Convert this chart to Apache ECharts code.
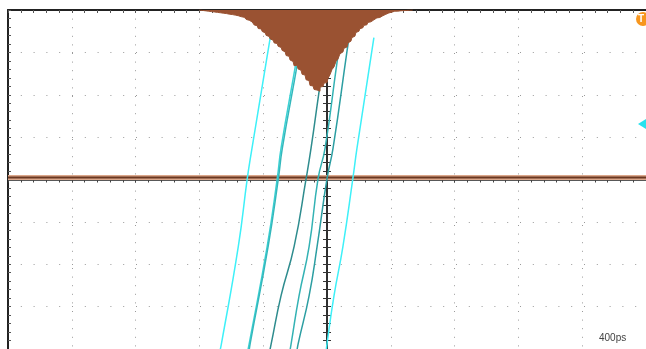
<!DOCTYPE html>
<html>
<head>
<meta charset="utf-8">
<script src="https://cdn.jsdelivr.net/npm/echarts@6/dist/echarts.min.js"></script>
<style>
  html, body { margin: 0; padding: 0; background: #fff; }
  #chart { width: 646px; height: 349px; }
</style>
</head>
<body>
<div id="chart"></div>
<script>
// scope screen: 10 div x 400 ps, 8 vertical div
const timeMin = -2000;
const timeMax = 2000;
const timePerDiv = 400;
const levelMin = -4;
const levelMax = 4;
const timebaseLabel = '400ps';

// brown channel: flat trace + jitter histogram hanging from the top edge
const flatLevel = 0.05;
const histStart = -800;    // ps, first bin
const histBinWidth = 12.5; // ps
const histMax = 3440;      // hits at full screen height
const histCounts = [
  0, 4, 6, 8, 12, 10, 16, 20, 18, 24, 28, 26, 32, 36, 34, 42, 46, 44, 52, 58,
  56, 68, 74, 82, 96, 104, 122, 130, 152, 160, 188, 192, 218, 232, 258, 268, 294, 306, 334, 340,
  368, 380, 410, 424, 462, 470, 508, 522, 566, 560, 598, 612, 652, 660, 708, 716, 766, 770, 806, 812,
  824, 782, 776, 742, 736, 694, 656, 604, 578, 522, 498, 444, 426, 388, 376, 334, 316, 280, 266, 228,
  216, 190, 180, 156, 150, 126, 120, 100, 98, 80, 76, 60, 58, 44, 38, 30, 22, 18, 12, 12,
  8, 8, 6, 4, 4, 2, 2, 0
];

// cyan rising edges, [ps, div]
const edge1 = [[-356, 3.35], [-475, 0.63], [-500, 0.02], [-556, -1.58], [-662, -3.88], [-675, -4.1]];
const edge2a = [[-169, 3.35], [-194, 2.77], [-288, 0.74], [-312, 0.02], [-375, -1.58], [-488, -3.88], [-500, -4.1]];
const edge2b = [[-160, 3.35], [-184, 2.77], [-280, 0.74], [-305, 0.02], [-369, -1.58], [-482, -3.88], [-490, -4.1]];
const edge3 = [[0, 3.35], [-50, 2.07], [-100, 0.74], [-131, 0.02], [-206, -1.58], [-288, -2.74], [-350, -3.88], [-362, -4.1]];
const edge4 = [[88, 3.35], [62, 2.74], [-12, 0.74], [-56, 0.02], [-112, -1.58], [-175, -2.74], [-225, -3.88], [-235, -4.1]];
const edge5 = [[138, 3.35], [125, 3.02], [38, 0.74], [0, 0.02], [-62, -1.58], [-112, -2.74], [-181, -3.88], [-190, -4.1]];
const edge6 = [[294, 3.35], [188, 0.74], [162, 0.02], [100, -1.58], [44, -2.74], [0, -3.88], [-6, -4.1]];

const histData = histCounts.map((c, i) => [histStart + i * histBinWidth, c]);

function edge(data, color, width) {
  return {
    type: 'line', data, symbol: 'none', smooth: 0.5, z: 4,
    lineStyle: { color, width: width || 1.5 }
  };
}

const gray = '#9a9a9a';
const chart = echarts.init(document.getElementById('chart'), null, { renderer: 'canvas' });
chart.setOption({
  animation: false,
  backgroundColor: '#fff',
  grid: { left: 8, top: 10, width: 640, height: 344, containLabel: false },
  xAxis: [
    {
      type: 'value', min: timeMin, max: timeMax, interval: timePerDiv, position: 'top',
      axisLine: { onZero: false, lineStyle: { color: '#222', width: 2 } },
      axisTick: { show: true, inside: true, length: 3, lineStyle: { color: '#555' } },
      minorTick: { show: true, splitNumber: 5, length: 3, lineStyle: { color: '#555' } },
      axisLabel: { show: false },
      splitLine: { show: true, lineStyle: { color: gray, width: 1, type: [1, 7.6] } }
    },
    {
      type: 'value', min: timeMin, max: timeMax, interval: timePerDiv, position: 'bottom',
      axisLine: { onZero: true, onZeroAxisIndex: 0, lineStyle: { color: '#222', width: 1.5 } },
      axisTick: { show: true, length: 3, lineStyle: { color: '#444' } },
      minorTick: { show: true, splitNumber: 5, length: 3, lineStyle: { color: '#444' } },
      axisLabel: { show: false },
      splitLine: { show: false }
    }
  ],
  yAxis: [
    {
      type: 'value', min: levelMin, max: levelMax, interval: 1, position: 'left',
      axisLine: { onZero: false, lineStyle: { color: '#222', width: 2 } },
      axisTick: { show: true, inside: true, length: 3, lineStyle: { color: '#555' } },
      minorTick: { show: true, splitNumber: 5, length: 3, lineStyle: { color: '#555' } },
      axisLabel: { show: false },
      splitLine: { show: true, lineStyle: { color: gray, width: 1, type: [1, 11.8] } }
    },
    {
      type: 'value', min: levelMin, max: levelMax, interval: 1, position: 'left',
      axisLine: { onZero: true, onZeroAxisIndex: 0, lineStyle: { color: '#222', width: 1.5 } },
      axisTick: { show: true, inside: true, length: 4, lineStyle: { color: '#333' } },
      minorTick: { show: true, splitNumber: 5, length: 4, lineStyle: { color: '#333' } },
      axisLabel: { show: false },
      splitLine: { show: false }
    },
    {
      type: 'value', min: levelMin, max: levelMax, interval: 1, position: 'left',
      axisLine: { onZero: true, onZeroAxisIndex: 0, lineStyle: { color: '#222', width: 1.5 } },
      axisTick: { show: true, inside: false, length: 4, lineStyle: { color: '#333' } },
      minorTick: { show: true, splitNumber: 5, length: 4, lineStyle: { color: '#333' } },
      axisLabel: { show: false },
      splitLine: { show: false }
    },
    {
      type: 'value', min: 0, max: histMax, inverse: true, show: false
    }
  ],
  series: [
    {
      type: 'line', data: [[timeMin, flatLevel], [timeMax, flatLevel]], symbol: 'none', z: 3,
      lineStyle: { color: '#dba78b', width: 5 }
    },
    {
      type: 'line', data: [[timeMin, flatLevel], [timeMax, flatLevel]], symbol: 'none', z: 3,
      lineStyle: { color: '#6b3822', width: 2 }
    },
    edge(edge1, '#3ef0f8'),
    edge(edge2a, '#3cd2d4'),
    edge(edge2b, '#34b8bc'),
    edge(edge3, '#2e8c8e'),
    edge(edge4, '#33b2b4'),
    edge(edge5, '#2c9ea2'),
    edge(edge6, '#3ef0f8'),
    {
      type: 'line', yAxisIndex: 3, data: histData, symbol: 'none', step: 'middle', z: 5,
      lineStyle: { width: 1, color: '#9a5232' },
      areaStyle: { origin: 'start', color: '#9a5232', opacity: 1 }
    }
  ],
  graphic: [
    { type: 'circle', shape: { cx: 643, cy: 19, r: 7 }, style: { fill: '#f7961e' }, z: 10 },
    { type: 'text', x: 641, y: 19, style: { text: 'T', fill: '#fff', font: 'bold 10px "Liberation Sans", Arial', align: 'center', verticalAlign: 'middle' }, z: 11 },
    { type: 'polygon', shape: { points: [[638, 124], [646, 119], [646, 129]] }, style: { fill: '#26e2ee' }, z: 10 },
    { type: 'text', x: 599, y: 333, style: { text: timebaseLabel, fill: '#444', font: '10px "Liberation Sans", Arial' }, z: 10 }
  ]
});
</script>
</body>
</html>
